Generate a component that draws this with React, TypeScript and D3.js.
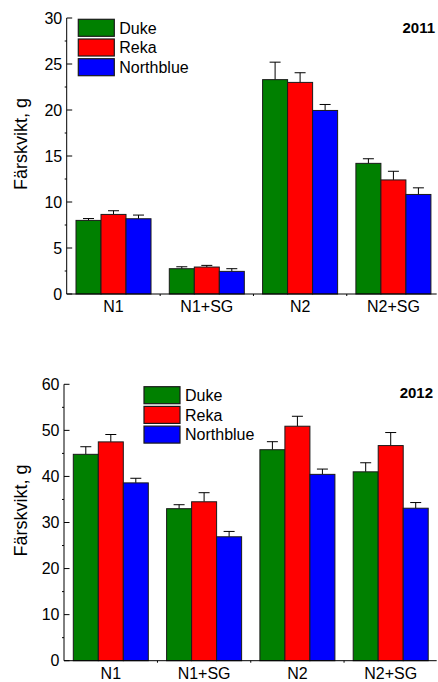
import React from 'react';
import * as d3 from 'd3';

const categories = ['N1', 'N1+SG', 'N2', 'N2+SG'];
const cultivars = ['Duke', 'Reka', 'Northblue'];
const colors = ['#008000', '#ff0000', '#0000ff'];

// 2011 means and error bars
const duke2011 = [8.0, 2.75, 23.3, 14.2];
const reka2011 = [8.65, 2.93, 23.0, 12.4];
const northblue2011 = [8.18, 2.46, 19.95, 10.82];
const dukeErr2011 = [0.2, 0.21, 1.9, 0.5];
const rekaErr2011 = [0.4, 0.18, 1.05, 0.94];
const northblueErr2011 = [0.4, 0.29, 0.65, 0.72];
const ticks2011 = [0, 5, 10, 15, 20, 25, 30];

// 2012 means and error bars
const duke2012 = [44.8, 33.0, 45.8, 41.0];
const reka2012 = [47.5, 34.5, 50.9, 46.7];
const northblue2012 = [38.6, 26.9, 40.45, 33.1];
const dukeErr2012 = [1.65, 0.86, 1.74, 1.97];
const rekaErr2012 = [1.6, 1.97, 2.16, 2.83];
const northblueErr2012 = [1.0, 1.16, 1.15, 1.23];
const ticks2012 = [0, 10, 20, 30, 40, 50, 60];

const font = 'Arial, "Liberation Sans", Helvetica, sans-serif';

type PanelProps = {
  year: string;
  means: number[][];
  errs: number[][];
  ticks: number[];
  axisX: number;
  barStart: number;
  y0: number;
  yTop: number;
  legendX: number;
  legendY: number;
  yearX: number;
  yearY: number;
};

function Panel({ year, means, errs, ticks, axisX, barStart, y0, yTop, legendX, legendY, yearX, yearY }: PanelProps) {
  const max = ticks[ticks.length - 1];
  const y = d3.scaleLinear().domain([0, max]).range([y0, yTop]);
  const step = 93.3;
  const pad = step * 0.196;
  const x = d3
    .scaleBand()
    .domain(categories)
    .range([barStart - pad / 2, barStart - pad / 2 + step * categories.length])
    .paddingInner(0.196)
    .paddingOuter(0.098);
  const xi = d3.scaleBand().domain(cultivars).range([0, x.bandwidth()]);
  const xEnd = 436.7;
  const minor = d3.range(ticks.length - 1).map((i) => (ticks[i] + ticks[i + 1]) / 2);

  return (
    <g>
      {/* bars */}
      {categories.map((c, ci) => (
        <g key={c}>
          {cultivars.map((cv, si) => {
            const bx = (x(c) as number) + (xi(cv) as number);
            const bw = xi.bandwidth();
            const v = means[si][ci];
            const e = errs[si][ci];
            const cx = bx + bw / 2;
            return (
              <g key={cv}>
                <line x1={cx} x2={cx} y1={y(v)} y2={y(v + e)} stroke="#000" strokeWidth={1} />
                <line x1={cx - 5.5} x2={cx + 5.5} y1={y(v + e)} y2={y(v + e)} stroke="#000" strokeWidth={1} />
                <rect x={bx} y={y(v)} width={bw} height={y0 - y(v)} fill={colors[si]} stroke="#1a1a1a" strokeWidth={1} />
              </g>
            );
          })}
        </g>
      ))}

      {/* y axis */}
      <line x1={axisX} x2={axisX} y1={yTop} y2={y0} stroke="#000" strokeWidth={1} />
      {ticks.map((t) => (
        <g key={t}>
          <line x1={axisX} x2={axisX + 5.5} y1={y(t)} y2={y(t)} stroke="#000" strokeWidth={1} />
          <text x={axisX - 4.5} y={y(t)} dy="0.36em" textAnchor="end" fontSize={16} fontFamily={font}>
            {t}
          </text>
        </g>
      ))}
      {minor.map((t) => (
        <line key={t} x1={axisX - 2} x2={axisX} y1={y(t)} y2={y(t)} stroke="#000" strokeWidth={1} />
      ))}
      <text
        transform={`translate(27,${(yTop + y0) / 2 - 12}) rotate(-90)`}
        textAnchor="middle"
        fontSize={18}
        fontFamily={font}
      >
        Färskvikt, g
      </text>

      {/* x axis */}
      <line x1={axisX} x2={xEnd} y1={y0} y2={y0} stroke="#000" strokeWidth={1} />
      {categories.slice(1).map((c) => {
        const bx = (x(c) as number) - (x.step() - x.bandwidth()) / 2;
        return <line key={c} x1={bx} x2={bx} y1={y0} y2={y0 + 2} stroke="#000" strokeWidth={1} />;
      })}
      {categories.map((c) => (
        <text
          key={c}
          x={(x(c) as number) + x.bandwidth() / 2}
          y={y0 + 18}
          textAnchor="middle"
          fontSize={16}
          fontFamily={font}
        >
          {c}
        </text>
      ))}

      {/* legend */}
      {cultivars.map((cv, i) => (
        <g key={cv} transform={`translate(${legendX},${legendY + i * 19.7})`}>
          <rect x={0} y={0} width={36} height={17} fill={colors[i]} stroke="#1a1a1a" strokeWidth={1.2} />
          <text x={41} y={8.5} dy="0.36em" fontSize={16} fontFamily={font}>
            {cv}
          </text>
        </g>
      ))}

      <text x={yearX} y={yearY} textAnchor="end" fontSize={15} fontWeight="bold" fontFamily={font}>
        {year}
      </text>
    </g>
  );
}

export default function App() {
  return (
    <svg
      width={438}
      height={682}
      style={{ position: 'absolute', left: 0, top: 0, background: '#fff' }}
    >
      <rect width={438} height={682} fill="#fff" />
      <Panel
        year="2011"
        means={[duke2011, reka2011, northblue2011]}
        errs={[dukeErr2011, rekaErr2011, northblueErr2011]}
        ticks={ticks2011}
        axisX={66.7}
        barStart={76}
        y0={294}
        yTop={18}
        legendX={78.3}
        legendY={19.3}
        yearX={435}
        yearY={33}
      />
      <Panel
        year="2012"
        means={[duke2012, reka2012, northblue2012]}
        errs={[dukeErr2012, rekaErr2012, northblueErr2012]}
        ticks={ticks2012}
        axisX={64}
        barStart={73.3}
        y0={660.7}
        yTop={384.3}
        legendX={144}
        legendY={386.7}
        yearX={433}
        yearY={398}
      />
    </svg>
  );
}
